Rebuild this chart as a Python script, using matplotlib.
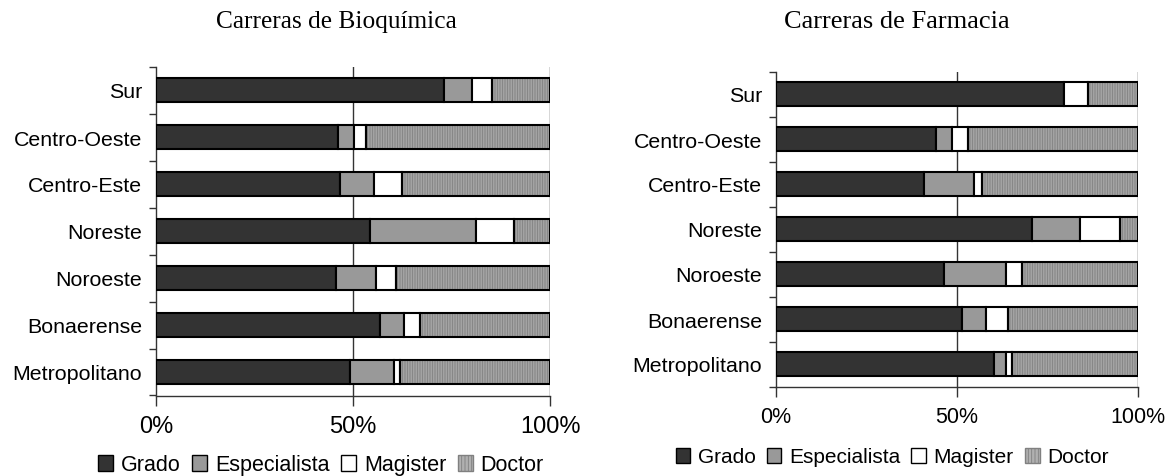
import matplotlib
matplotlib.use("Agg")
import matplotlib.pyplot as plt
import numpy as np
from matplotlib.patches import Patch

regions = ["Sur", "Centro-Oeste", "Centro-Este", "Noreste", "Noroeste", "Bonaerense", "Metropolitano"]
series = ["Grado", "Especialista", "Magister", "Doctor"]

bio_grado = [73.1, 46.2, 46.7, 54.3, 45.7, 56.9, 49.2]
bio_espec = [7.1, 4.1, 8.6, 26.9, 10.1, 6.0, 11.2]
bio_magis = [5.1, 3.0, 7.1, 9.7, 5.1, 4.1, 1.5]
bio_doctor = [14.7, 46.7, 37.6, 9.1, 39.1, 33.0, 38.1]

far_grado = [79.6, 44.2, 40.9, 70.7, 46.4, 51.4, 60.2]
far_espec = [0.0, 4.4, 13.8, 13.3, 17.1, 6.6, 3.3]
far_magis = [6.6, 4.4, 2.2, 11.0, 4.5, 6.1, 1.7]
far_doctor = [13.8, 47.0, 43.1, 5.0, 32.0, 35.9, 34.8]

xticks = [0, 50, 100]
xticklabels = ["0%", "50%", "100%"]

colors = ["#333333", "#999999", "#ffffff", "#b0b0b0"]
hatch_col = "#808080"

plt.rcParams['hatch.linewidth'] = 0.6
sans = "Liberation Sans"
serif = "Liberation Serif"

fig = plt.figure(figsize=(11.71, 4.77), dpi=100)

def draw(ax, data, title, title_x, title_size, xtick_size, ylab_size, bar_h,
         leg_center_x, leg_y, leg_size):
    y = np.arange(len(regions))
    left = np.zeros(len(regions))
    for i, vals in enumerate(data):
        vals = np.array(vals)
        if i == 3:
            ax.barh(y, vals, left=left, height=bar_h, color=colors[i],
                    edgecolor=hatch_col, hatch="||||||||||", linewidth=0, zorder=3)
            ax.barh(y, vals, left=left, height=bar_h, fill=False,
                    edgecolor="black", linewidth=1.5, zorder=4)
        else:
            ax.barh(y, vals, left=left, height=bar_h, color=colors[i],
                    edgecolor="black", linewidth=1.5, zorder=4)
        left = left + vals
    ax.set_xlim(0, 100)
    ax.set_ylim(len(regions) - 0.5, -0.5)
    ax.set_xticks(xticks)
    ax.set_xticklabels(xticklabels, fontsize=xtick_size, family=sans)
    ax.set_yticks(np.arange(len(regions) + 1) - 0.5)
    ax.set_yticklabels([])
    ax.set_yticks(y, minor=True)
    ax.set_yticklabels(regions, minor=True, fontsize=ylab_size, family=sans)
    ax.tick_params(axis="y", which="minor", length=0, pad=10)
    ax.tick_params(axis="y", which="major", length=5, width=1, direction="out", color="#333333")
    ax.tick_params(axis="x", length=7, width=1, direction="out", pad=7, color="#333333")
    for s in ["top", "right"]:
        ax.spines[s].set_visible(False)
    for s in ["left", "bottom"]:
        ax.spines[s].set_color("#333333")
        ax.spines[s].set_linewidth(1)
    for xv in [50, 100]:
        ax.axvline(xv, color="#333333", linewidth=1, zorder=1)
    fig.text(title_x, 1 - 22 / 477, title, family=serif, fontsize=title_size,
             ha="center", va="center")
    handles = [Patch(facecolor=colors[0], edgecolor="black", linewidth=1),
               Patch(facecolor=colors[1], edgecolor="black", linewidth=1),
               Patch(facecolor=colors[2], edgecolor="black", linewidth=1),
               Patch(facecolor=colors[3], edgecolor=hatch_col, hatch="|||||", linewidth=1)]
    leg = fig.legend(handles, series, loc="center", bbox_to_anchor=(leg_center_x, leg_y),
                     ncol=4, frameon=False, handlelength=0.7, handleheight=0.7,
                     handletextpad=0.35, columnspacing=0.55, borderaxespad=0,
                     prop={"family": sans, "size": leg_size})
    return leg

ax1 = fig.add_axes([156 / 1171, 80.5 / 477, 394 / 1171, 329 / 477])
draw(ax1, [bio_grado, bio_espec, bio_magis, bio_doctor], "Carreras de Bioquímica",
     336 / 1171, 18.3, 17, 15.4, 0.51, 321 / 1171, 1 - 466 / 477, 15.5)

ax2 = fig.add_axes([776 / 1171, 89.5 / 477, 362 / 1171, 315 / 477])
draw(ax2, [far_grado, far_espec, far_magis, far_doctor], "Carreras de Farmacia",
     897 / 1171, 19, 15.5, 15.4, 0.53, 892 / 1171, 1 - 458 / 477, 15)

fig.savefig("out.png", dpi=100)
